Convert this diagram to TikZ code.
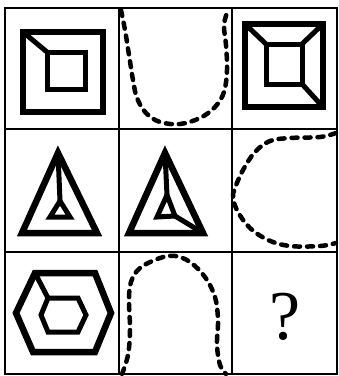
\documentclass[tikz,border=0pt]{standalone}
\usepackage{fontspec}
\setmainfont{Liberation Serif}
\begin{document}
\begin{tikzpicture}[x=1pt,y=-1pt,
  gridline/.style={line width=1.6pt},
  thick figure/.style={line width=6.5pt,line join=miter},
  thin figure/.style={line width=5pt,line join=miter},
  dashcurve/.style={line width=4.5pt,dash pattern=on 6pt off 7pt,line cap=round}]
\useasboundingbox (0,0) rectangle (339,376);
% grid
\draw[gridline] (5,8) rectangle (337,374);
\draw[gridline] (119,8) -- (119,374);
\draw[gridline] (232,8) -- (232,374);
\draw[gridline] (5,129) -- (337,129);
\draw[gridline] (5,252) -- (337,252);
% cell 1: square with inner square
\draw[thick figure] (23,32) rectangle (103,112);
\draw[thin figure] (47,52) rectangle (85,89);
\draw[thin figure] (23,32) -- (47,52);
% cell 2: dashed U
\draw[dashcurve] plot[smooth,tension=0.6] coordinates {(121,10) (125,30) (129,55) (133,80) (137,98) (146,113) (160,122) (180,124) (200,118) (215,107) (224,92) (227,70) (226,45) (224,25) (228,10)};
% cell 3: square with inner square and three links
\draw[thick figure] (245,24) rectangle (323,107);
\draw[thin figure] (266,44) rectangle (302,84);
\draw[thin figure] (245,24) -- (266,44);
\draw[thin figure] (323,24) -- (302,44);
\draw[thin figure] (323,107) -- (302,84);
% cell 4: triangle with inner triangle
\draw[thick figure] (58,153) -- (97,233) -- (22,233) -- cycle;
\draw[thin figure] (60,201) -- (70,217) -- (50,217) -- cycle;
\draw[thin figure] (58,153) -- (60,201);
% cell 5
\draw[thick figure] (165,153) -- (203,233) -- (129,233) -- cycle;
\draw[thin figure] (167,195) -- (175,216) -- (157,217) -- cycle;
\draw[thin figure] (165,153) -- (167,195);
\draw[thin figure] (175,216) -- (203,233);
% cell 6: dashed C
\draw[dashcurve] plot[smooth,tension=0.6] coordinates {(336,133) (320,137) (290,138) (270,141) (255,152) (243,170) (235,188) (233,198) (238,212) (250,228) (268,240) (290,246) (320,246) (336,243)};
% cell 7: hexagon
\draw[thick figure] (35,273) -- (95,273) -- (111,313) -- (95,352) -- (33,352) -- (16,313) -- cycle;
\draw[thin figure] (48,298) -- (78,298) -- (86,315) -- (78,332) -- (48,332) -- (41,315) -- cycle;
\draw[thin figure] (35,273) -- (48,298);
% cell 8: dashed arch
\draw[dashcurve] plot[smooth,tension=0.6] coordinates {(122,374) (128,355) (130,330) (129,300) (131,282) (140,268) (160,258) (175,256) (190,262) (205,277) (215,297) (218,320) (217,345) (220,365) (226,374)};
% cell 9
\node (q) at (285,317) {\fontsize{70}{70}\selectfont ?};
\end{tikzpicture}
\end{document}
